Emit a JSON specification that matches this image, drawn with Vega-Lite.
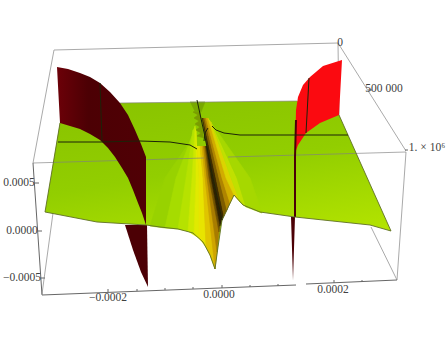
{"$schema":"https://vega.github.io/schema/vega-lite/v6.json","width":446,"height":342,"autosize":{"type":"fit","contains":"padding"},"padding":0,"background":"white","view":{"stroke":null},
"datasets":{
"lines":[
{"k":"back","id":"a","i":1,"u":54,"v":50},{"k":"back","id":"a","i":2,"u":338,"v":43},
{"k":"back","id":"b","i":1,"u":54,"v":50},{"k":"back","id":"b","i":2,"u":33,"v":163},
{"k":"back","id":"c","i":1,"u":338,"v":43},{"k":"back","id":"c","i":2,"u":339,"v":115},
{"k":"back","id":"d","i":1,"u":338,"v":43},{"k":"back","id":"d","i":2,"u":406,"v":151},
{"k":"back","id":"e","i":1,"u":406,"v":152},{"k":"back","id":"e","i":2,"u":397,"v":280},
{"k":"back","id":"f","i":1,"u":53,"v":213},{"k":"back","id":"f","i":2,"u":42,"v":294},
{"k":"back","id":"g","i":1,"u":371,"v":227},{"k":"back","id":"g","i":2,"u":397,"v":280},
{"k":"front","id":"h","i":1,"u":33,"v":163},{"k":"front","id":"h","i":2,"u":204,"v":158},
{"k":"front","id":"j","i":1,"u":228,"v":157},{"k":"front","id":"j","i":2,"u":406,"v":152},
{"k":"front","id":"p","i":1,"u":120,"v":103},{"k":"front","id":"p","i":2,"u":297,"v":101},
{"k":"axis","id":"l","i":1,"u":33,"v":163},{"k":"axis","id":"l","i":2,"u":42,"v":295},
{"k":"axis","id":"m","i":1,"u":42,"v":295},{"k":"axis","id":"m","i":2,"u":296,"v":285},
{"k":"axis","id":"n","i":1,"u":306,"v":284},{"k":"axis","id":"n","i":2,"u":397,"v":280},
{"k":"axis","id":"t1","i":1,"u":108,"v":292},{"k":"axis","id":"t1","i":2,"u":108,"v":289},
{"k":"axis","id":"t2","i":1,"u":137,"v":291},{"k":"axis","id":"t2","i":2,"u":137,"v":289},
{"k":"axis","id":"t3","i":1,"u":165,"v":290},{"k":"axis","id":"t3","i":2,"u":165,"v":288},
{"k":"axis","id":"t4","i":1,"u":193,"v":289},{"k":"axis","id":"t4","i":2,"u":193,"v":287},
{"k":"axis","id":"t5","i":1,"u":222,"v":288},{"k":"axis","id":"t5","i":2,"u":222,"v":285},
{"k":"axis","id":"t6","i":1,"u":250,"v":287},{"k":"axis","id":"t6","i":2,"u":250,"v":285},
{"k":"axis","id":"t7","i":1,"u":278,"v":286},{"k":"axis","id":"t7","i":2,"u":278,"v":284},
{"k":"axis","id":"t8","i":1,"u":334,"v":283},{"k":"axis","id":"t8","i":2,"u":334,"v":280},
{"k":"axis","id":"t9","i":1,"u":362,"v":282},{"k":"axis","id":"t9","i":2,"u":362,"v":280},
{"k":"axis","id":"y1","i":1,"u":35,"v":183},{"k":"axis","id":"y1","i":2,"u":39,"v":183},
{"k":"axis","id":"y2","i":1,"u":38,"v":231},{"k":"axis","id":"y2","i":2,"u":42,"v":231},
{"k":"axis","id":"y3","i":1,"u":41,"v":278},{"k":"axis","id":"y3","i":2,"u":45,"v":278},
{"k":"axis","id":"z1","i":1,"u":368,"v":90},{"k":"axis","id":"z1","i":2,"u":372,"v":90},
{"k":"axis","id":"z2","i":1,"u":405,"v":150},{"k":"axis","id":"z2","i":2,"u":408,"v":150},
{"k":"mesh","id":"m1","i":1,"u":58,"v":142},{"k":"mesh","id":"m1","i":2,"u":100,"v":142},{"k":"mesh","id":"m1","i":3,"u":140,"v":141},{"k":"mesh","id":"m1","i":4,"u":170,"v":142},{"k":"mesh","id":"m1","i":5,"u":190,"v":145},{"k":"mesh","id":"m1","i":6,"u":197,"v":149},
{"k":"mesh","id":"m2","i":1,"u":212,"v":126},{"k":"mesh","id":"m2","i":2,"u":216,"v":130},{"k":"mesh","id":"m2","i":3,"u":224,"v":133},{"k":"mesh","id":"m2","i":4,"u":240,"v":135},{"k":"mesh","id":"m2","i":5,"u":296,"v":135},{"k":"mesh","id":"m2","i":6,"u":348,"v":135},
{"k":"mesh","id":"m3","i":1,"u":204,"v":141},{"k":"mesh","id":"m3","i":2,"u":205,"v":133},{"k":"mesh","id":"m3","i":3,"u":208,"v":128},
{"k":"mesh","id":"m4","i":1,"u":197,"v":100},{"k":"mesh","id":"m4","i":2,"u":205,"v":137},{"k":"mesh","id":"m4","i":3,"u":213,"v":178},{"k":"mesh","id":"m4","i":4,"u":222,"v":220},
{"k":"mesh","id":"m5","i":1,"u":100,"v":83},{"k":"mesh","id":"m5","i":2,"u":102,"v":141},
{"k":"mesh","id":"m6","i":1,"u":309,"v":78},{"k":"mesh","id":"m6","i":2,"u":306,"v":133},
{"k":"edge","id":"e1","i":1,"u":60,"v":123},{"k":"edge","id":"e1","i":2,"u":45,"v":212},{"k":"edge","id":"e1","i":3,"u":97,"v":222},{"k":"edge","id":"e1","i":4,"u":146,"v":225},{"k":"edge","id":"e1","i":5,"u":160,"v":227},{"k":"edge","id":"e1","i":6,"u":178,"v":229},{"k":"edge","id":"e1","i":7,"u":193,"v":233},{"k":"edge","id":"e1","i":8,"u":203,"v":242},{"k":"edge","id":"e1","i":9,"u":210,"v":255},{"k":"edge","id":"e1","i":10,"u":215,"v":269},{"k":"edge","id":"e1","i":11,"u":218,"v":247},{"k":"edge","id":"e1","i":12,"u":222,"v":220},{"k":"edge","id":"e1","i":13,"u":234,"v":195},{"k":"edge","id":"e1","i":14,"u":243,"v":205},{"k":"edge","id":"e1","i":15,"u":260,"v":212},{"k":"edge","id":"e1","i":16,"u":295,"v":217},{"k":"edge","id":"e1","i":17,"u":370,"v":225},{"k":"edge","id":"e1","i":18,"u":391,"v":231},{"k":"edge","id":"e1","i":19,"u":339,"v":115}
],
"surface":[
{"i":1,"u":60,"v":122},{"i":2,"u":120,"v":103},{"i":3,"u":297,"v":101},{"i":4,"u":339,"v":115},{"i":5,"u":391,"v":231},{"i":6,"u":370,"v":225},{"i":7,"u":295,"v":217},{"i":8,"u":260,"v":212},{"i":9,"u":243,"v":205},{"i":10,"u":234,"v":195},{"i":11,"u":222,"v":220},{"i":12,"u":218,"v":247},{"i":13,"u":215,"v":269},{"i":14,"u":210,"v":255},{"i":15,"u":203,"v":242},{"i":16,"u":193,"v":233},{"i":17,"u":178,"v":229},{"i":18,"u":160,"v":227},{"i":19,"u":146,"v":225},{"i":20,"u":97,"v":222},{"i":21,"u":45,"v":212}
],
"strips":[
{"p":"s01","i":1,"u":191,"v":140},{"p":"s01","i":2,"u":165,"v":178},{"p":"s01","i":3,"u":150,"v":226},{"p":"s01","i":4,"u":165,"v":228},{"p":"s01","i":5,"u":176,"v":178},{"p":"s01","i":6,"u":192,"v":136},
{"p":"s02","i":1,"u":192,"v":136},{"p":"s02","i":2,"u":176,"v":178},{"p":"s02","i":3,"u":165,"v":228},{"p":"s02","i":4,"u":178,"v":229},{"p":"s02","i":5,"u":186,"v":178},{"p":"s02","i":6,"u":193,"v":130},
{"p":"s03","i":1,"u":193,"v":130},{"p":"s03","i":2,"u":186,"v":178},{"p":"s03","i":3,"u":178,"v":229},{"p":"s03","i":4,"u":188,"v":231},{"p":"s03","i":5,"u":192,"v":178},{"p":"s03","i":6,"u":195,"v":126},
{"p":"s04","i":1,"u":195,"v":126},{"p":"s04","i":2,"u":192,"v":178},{"p":"s04","i":3,"u":188,"v":231},{"p":"s04","i":4,"u":194,"v":235},{"p":"s04","i":5,"u":196,"v":178},{"p":"s04","i":6,"u":196,"v":130},
{"p":"s05","i":1,"u":196,"v":130},{"p":"s05","i":2,"u":196,"v":178},{"p":"s05","i":3,"u":194,"v":235},{"p":"s05","i":4,"u":199,"v":238},{"p":"s05","i":5,"u":199,"v":178},{"p":"s05","i":6,"u":197,"v":146},
{"p":"s06","i":1,"u":197,"v":146},{"p":"s06","i":2,"u":199,"v":178},{"p":"s06","i":3,"u":199,"v":238},{"p":"s06","i":4,"u":206,"v":247},{"p":"s06","i":5,"u":203,"v":178},{"p":"s06","i":6,"u":200,"v":146},
{"p":"s07","i":1,"u":200,"v":146},{"p":"s07","i":2,"u":203,"v":178},{"p":"s07","i":3,"u":206,"v":247},{"p":"s07","i":4,"u":210,"v":255},{"p":"s07","i":5,"u":215,"v":269},{"p":"s07","i":6,"u":205,"v":178},{"p":"s07","i":7,"u":202,"v":146},
{"p":"s08","i":1,"u":202,"v":146},{"p":"s08","i":2,"u":205,"v":178},{"p":"s08","i":3,"u":215,"v":269},{"p":"s08","i":4,"u":217,"v":252},{"p":"s08","i":5,"u":207,"v":178},{"p":"s08","i":6,"u":203.5,"v":146},
{"p":"s09","i":1,"u":203.5,"v":146},{"p":"s09","i":2,"u":207,"v":178},{"p":"s09","i":3,"u":217,"v":252},{"p":"s09","i":4,"u":219,"v":232},{"p":"s09","i":5,"u":209,"v":178},{"p":"s09","i":6,"u":205,"v":146},
{"p":"s10","i":1,"u":205,"v":146},{"p":"s10","i":2,"u":209,"v":178},{"p":"s10","i":3,"u":219,"v":232},{"p":"s10","i":4,"u":220,"v":226},{"p":"s10","i":5,"u":211,"v":178},{"p":"s10","i":6,"u":206,"v":146},
{"p":"s11","i":1,"u":206,"v":146},{"p":"s11","i":2,"u":211,"v":178},{"p":"s11","i":3,"u":220,"v":226},{"p":"s11","i":4,"u":222,"v":220},{"p":"s11","i":5,"u":213,"v":178},{"p":"s11","i":6,"u":207,"v":146},
{"p":"r1","i":1,"u":202,"v":118},{"p":"r1","i":2,"u":213,"v":178},{"p":"r1","i":3,"u":222,"v":220},{"p":"r1","i":4,"u":224,"v":216},{"p":"r1","i":5,"u":216,"v":178},{"p":"r1","i":6,"u":203,"v":118},
{"p":"r2","i":1,"u":203,"v":118},{"p":"r2","i":2,"u":216,"v":178},{"p":"r2","i":3,"u":224,"v":216},{"p":"r2","i":4,"u":227,"v":210},{"p":"r2","i":5,"u":219,"v":178},{"p":"r2","i":6,"u":204.5,"v":118},
{"p":"r3","i":1,"u":204.5,"v":118},{"p":"r3","i":2,"u":219,"v":178},{"p":"r3","i":3,"u":227,"v":210},{"p":"r3","i":4,"u":230,"v":203},{"p":"r3","i":5,"u":222,"v":178},{"p":"r3","i":6,"u":206,"v":118},
{"p":"r4","i":1,"u":206,"v":118},{"p":"r4","i":2,"u":222,"v":178},{"p":"r4","i":3,"u":230,"v":203},{"p":"r4","i":4,"u":234,"v":195},{"p":"r4","i":5,"u":226,"v":178},{"p":"r4","i":6,"u":208,"v":118},
{"p":"r5","i":1,"u":208,"v":118},{"p":"r5","i":2,"u":226,"v":178},{"p":"r5","i":3,"u":234,"v":195},{"p":"r5","i":4,"u":240,"v":202},{"p":"r5","i":5,"u":231,"v":178},{"p":"r5","i":6,"u":211,"v":122},
{"p":"r6","i":1,"u":211,"v":122},{"p":"r6","i":2,"u":231,"v":178},{"p":"r6","i":3,"u":240,"v":202},{"p":"r6","i":4,"u":246,"v":207},{"p":"r6","i":5,"u":237,"v":178},{"p":"r6","i":6,"u":213,"v":126},
{"p":"r7","i":1,"u":213,"v":126},{"p":"r7","i":2,"u":237,"v":178},{"p":"r7","i":3,"u":246,"v":207},{"p":"r7","i":4,"u":262,"v":213},{"p":"r7","i":5,"u":250,"v":178},{"p":"r7","i":6,"u":215,"v":128},
{"p":"t1","i":1,"u":200,"v":110},{"p":"t1","i":2,"u":193,"v":112},{"p":"t1","i":3,"u":198,"v":115},{"p":"t1","i":4,"u":194,"v":118},{"p":"t1","i":5,"u":199,"v":121},{"p":"t1","i":6,"u":195,"v":124},{"p":"t1","i":7,"u":200,"v":127},{"p":"t1","i":8,"u":196,"v":130},{"p":"t1","i":9,"u":201,"v":133},{"p":"t1","i":10,"u":197,"v":136},{"p":"t1","i":11,"u":204,"v":138},
{"p":"t2","i":1,"u":190,"v":102},{"p":"t2","i":2,"u":205,"v":102},{"p":"t2","i":3,"u":201,"v":112},{"p":"t2","i":4,"u":195,"v":112}
],
"wallLeft":[
{"i":1,"u":57,"v":67},{"i":2,"u":68,"v":69},{"i":3,"u":80,"v":73},{"i":4,"u":90,"v":77},{"i":5,"u":100,"v":83},{"i":6,"u":110,"v":92},{"i":7,"u":120,"v":103},{"i":8,"u":128,"v":115},{"i":9,"u":135,"v":130},{"i":10,"u":141,"v":144},{"i":11,"u":146,"v":157},{"i":12,"u":146,"v":225},{"i":13,"u":142,"v":213},{"i":14,"u":138,"v":203},{"i":15,"u":133,"v":190},{"i":16,"u":128,"v":178},{"i":17,"u":122,"v":168},{"i":18,"u":115,"v":157},{"i":19,"u":108,"v":148},{"i":20,"u":100,"v":140},{"i":21,"u":90,"v":134},{"i":22,"u":80,"v":129},{"i":23,"u":70,"v":126},{"i":24,"u":60,"v":123}
],
"wallOther":[
{"p":"low","i":1,"u":125,"v":225},{"p":"low","i":2,"u":147,"v":225},{"p":"low","i":3,"u":148,"v":287},{"p":"low","i":4,"u":141,"v":272},{"p":"low","i":5,"u":133,"v":250},
{"p":"thin","i":1,"u":291,"v":217},{"p":"thin","i":2,"u":295,"v":217},{"p":"thin","i":3,"u":293,"v":280}
],
"wallRed":[
{"i":1,"u":342,"v":60},{"i":2,"u":323,"v":66},{"i":3,"u":310,"v":77},{"i":4,"u":303,"v":85},{"i":5,"u":298,"v":97},{"i":6,"u":296,"v":110},{"i":7,"u":295,"v":153},{"i":8,"u":298,"v":145},{"i":9,"u":306,"v":133},{"i":10,"u":320,"v":123},{"i":11,"u":339,"v":115}
],
"darkEdge":[
{"i":1,"u":296,"v":120},{"i":2,"u":295,"v":157},{"i":3,"u":295,"v":217}
],
"labels":[
{"t":"−0.0002","u":108,"v":298},{"t":"0.0000","u":219,"v":295},{"t":"0.0002","u":333,"v":290},
{"t":"0.0005","u":19,"v":183},{"t":"0.0000","u":22,"v":231},{"t":"−0.0005","u":22,"v":278},
{"t":"0","u":340,"v":43},{"t":"500 000","u":384,"v":89},{"t":"1. × 10⁶","u":427,"v":148}
]
},
"encoding":{
"x":{"field":"u","type":"quantitative","scale":{"domain":[0,446],"nice":false,"zero":false},"axis":null},
"y":{"field":"v","type":"quantitative","scale":{"domain":[342,0],"nice":false,"zero":false},"axis":null},
"order":{"field":"i"}
},
"layer":[
{"data":{"name":"lines"},"transform":[{"filter":"datum.k==='back'"}],"mark":{"type":"line","color":"#aaaaaa","strokeWidth":1},"encoding":{"detail":{"field":"id"}}},
{"data":{"name":"wallOther"},"mark":{"type":"line","filled":true,"color":"#4c0005"},"encoding":{"detail":{"field":"p"}}},
{"data":{"name":"surface"},"mark":{"type":"line","filled":true,"color":{"gradient":"linear","x1":0,"y1":0,"x2":0.35,"y2":1,"stops":[{"offset":0,"color":"#88c200"},{"offset":0.5,"color":"#92ce00"},{"offset":1,"color":"#b4e400"}]}}},
{"data":{"name":"strips"},"mark":{"type":"line","filled":true,"strokeWidth":0.6},"encoding":{
"color":{"field":"p","type":"nominal","legend":null,"scale":{"domain":["s01","s02","s03","s04","s05","s06","s07","s08","s09","s10","s11","r1","r2","r3","r4","r5","r6","r7","t1","t2"],"range":["#98d200","#a6dc00","#b6e200","#cce800","#e0ea00","#e8e400","#e0c400","#cfa400","#a87c00","#6e4e00","#2e2000","#3c2a00","#7e5c00","#b08400","#d2ac00","#dcd400","#c0e000","#a6d800","#7a9c00","#78a800"]}},
"stroke":{"field":"p","type":"nominal","legend":null,"scale":{"domain":["s01","s02","s03","s04","s05","s06","s07","s08","s09","s10","s11","r1","r2","r3","r4","r5","r6","r7","t1","t2"],"range":["#98d200","#a6dc00","#b6e200","#cce800","#e0ea00","#e8e400","#e0c400","#cfa400","#a87c00","#6e4e00","#2e2000","#3c2a00","#7e5c00","#b08400","#d2ac00","#dcd400","#c0e000","#a6d800","#7a9c00","#78a800"]}}
}},
{"data":{"name":"lines"},"transform":[{"filter":"datum.k==='front'"}],"mark":{"type":"line","color":"#808080","strokeWidth":1,"opacity":0.65},"encoding":{"detail":{"field":"id"}}},
{"data":{"name":"wallLeft"},"mark":{"type":"line","filled":true,"color":{"gradient":"linear","x1":0,"y1":0,"x2":1,"y2":0,"stops":[{"offset":0,"color":"#6c0008"},{"offset":0.35,"color":"#4c0004"},{"offset":1,"color":"#500005"}]}}},
{"data":{"name":"wallRed"},"mark":{"type":"line","filled":true,"color":"#fb0a10"}},
{"data":{"name":"darkEdge"},"mark":{"type":"line","color":"#4a0008","strokeWidth":2}},
{"data":{"name":"lines"},"transform":[{"filter":"datum.k==='edge'"}],"mark":{"type":"line","color":"#5f6f25","strokeWidth":0.9},"encoding":{"detail":{"field":"id"}}},
{"data":{"name":"lines"},"transform":[{"filter":"datum.k==='mesh'"}],"mark":{"type":"line","color":"#1c2308","strokeWidth":1},"encoding":{"detail":{"field":"id"}}},
{"data":{"name":"lines"},"transform":[{"filter":"datum.k==='axis'"}],"mark":{"type":"line","color":"#666666","strokeWidth":1},"encoding":{"detail":{"field":"id"}}},
{"data":{"name":"labels"},"mark":{"type":"text","font":"Liberation Serif","fontSize":11.5,"color":"#404040","align":"center","baseline":"middle"},"encoding":{"text":{"field":"t"},"order":{"value":null}}}
]}
